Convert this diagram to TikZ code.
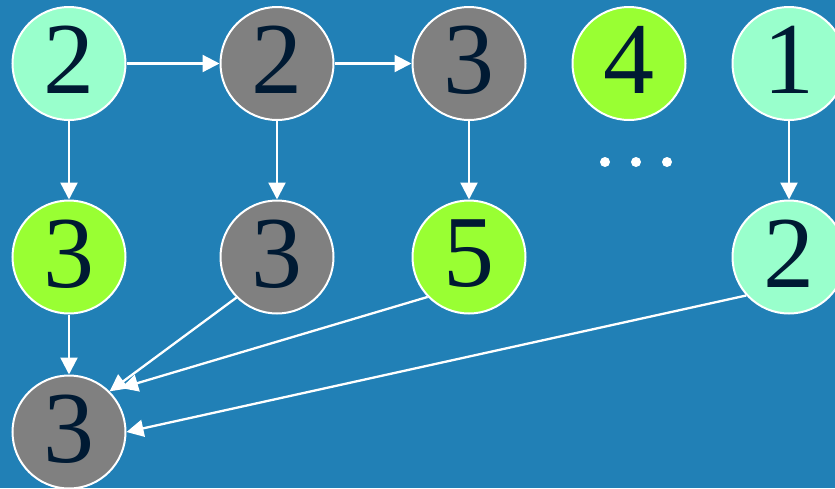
\documentclass[tikz,border=0pt]{standalone}
\usepackage{fontspec}
\setmainfont{Liberation Serif}
\newfontfamily\numfont{Liberation Serif}
\usetikzlibrary{arrows.meta}
\definecolor{bg}{HTML}{2180B6}
\definecolor{aqua}{HTML}{99FFCC}
\definecolor{lime}{HTML}{99FF33}
\definecolor{grayn}{HTML}{808080}
\definecolor{ink}{HTML}{001A33}
\tikzset{
  num/.style={circle, draw=white, line width=2pt, minimum size=113pt, inner sep=0pt,
    text=ink, text depth=7pt, font=\numfont\fontsize{102}{102}\selectfont},
  aq/.style={num, fill=aqua},
  gn/.style={num, fill=lime},
  gy/.style={num, fill=grayn},
  link/.style={draw=white, line width=2.3pt, -{Triangle[length=17pt,width=17pt]}},
  dotmark/.style={circle, fill=white, inner sep=0pt, minimum size=10pt}
}
\begin{document}
\begin{tikzpicture}[x=1pt,y=-1pt]
\fill[bg] (0,0) rectangle (835,488);
\useasboundingbox (0,0) rectangle (835,488);
\node[aq] (a1) at (69,63.5) {2};
\node[gy] (a2) at (277,63.5) {2};
\node[gy] (a3) at (469,63.5) {3};
\node[gn] (a4) at (629,63.5) {4};
\node[aq] (a5) at (789,63.5) {1};
\node[gn] (b1) at (69,257) {3};
\node[gy] (b2) at (277,257) {3};
\node[gn] (b3) at (469,257) {5};
\node[aq] (b5) at (789,257) {2};
\node[gy] (c1) at (69,432) {3};
\node[dotmark] (d1) at (605,162) {};
\node[dotmark] (d2) at (636,162) {};
\node[dotmark] (d3) at (667,162) {};
\coordinate (t5) at (121,388);
\draw[link] (a1) -- (a2);
\draw[link] (a2) -- (a3);
\draw[link] (a1) -- (b1);
\draw[link] (a2) -- (b2);
\draw[link] (a3) -- (b3);
\draw[link] (a5) -- (b5);
\draw[link] (b1) -- (c1);
\draw[link] (b2.225) -- (c1.45);
\draw[link] (b3.224) -- (t5);
\draw[link] (b5.222) -- (c1.east);
\end{tikzpicture}
\end{document}
